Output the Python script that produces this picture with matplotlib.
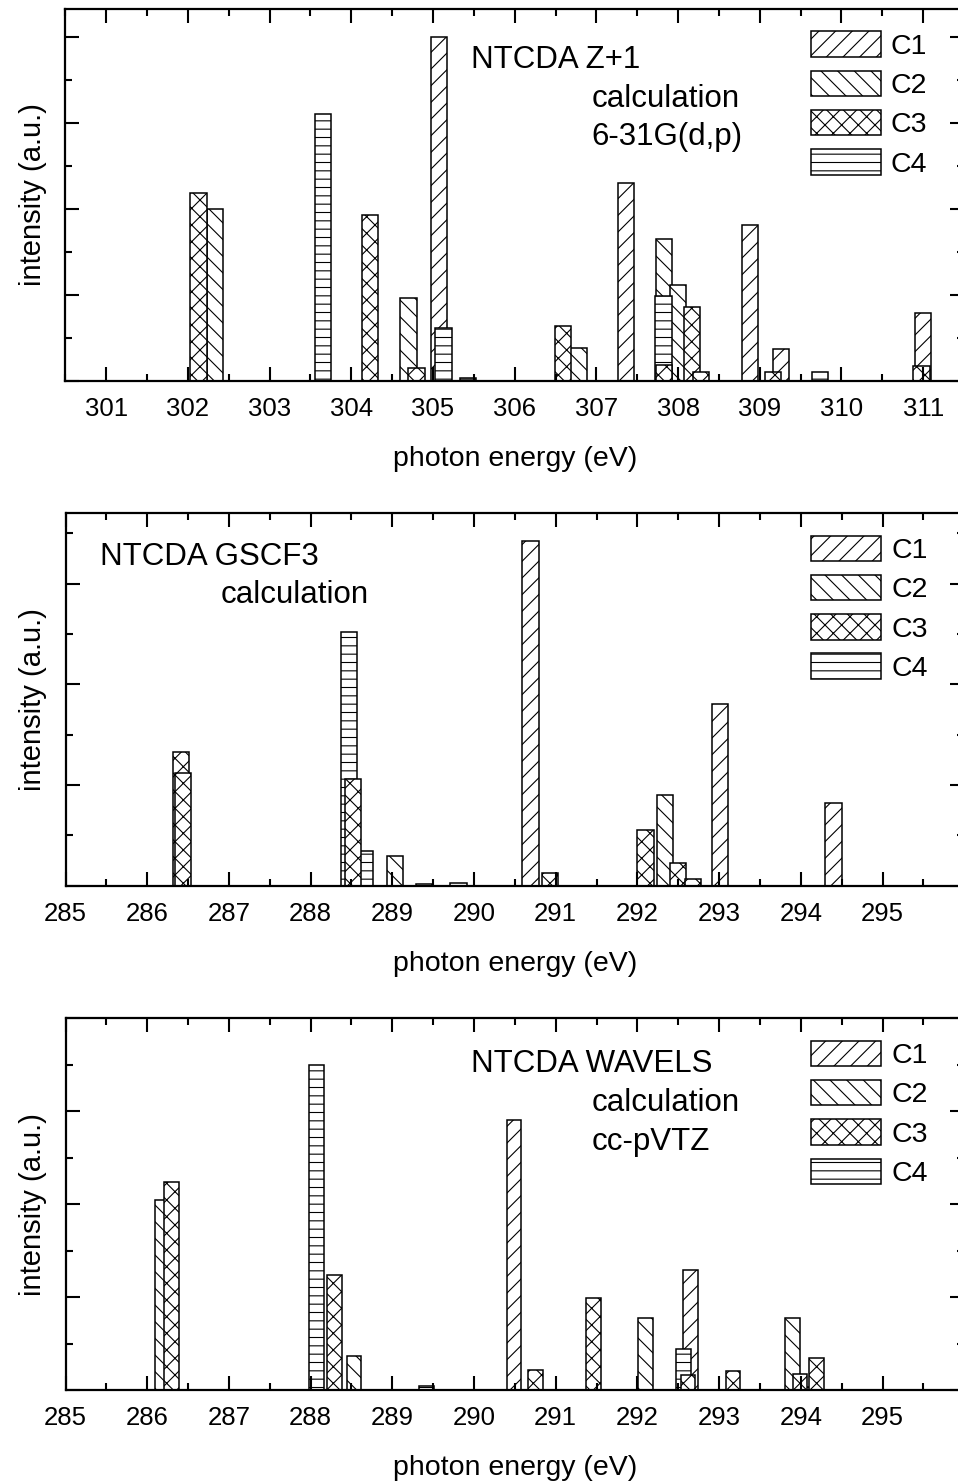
import matplotlib
matplotlib.use('Agg')
import matplotlib.pyplot as plt
from matplotlib.patches import Patch
from matplotlib.ticker import MultipleLocator

plt.rcParams['font.family'] = ['Liberation Sans', 'DejaVu Sans']
plt.rcParams['hatch.linewidth'] = 0.8

# Panel 1: NTCDA Z+1, 6-31G(d,p)
z_c1_x = [305.07, 307.36, 308.88, 309.26, 311.0]
z_c1_y = [4.0, 2.30, 1.81, 0.37, 0.79]
z_c2_x = [302.33, 304.70, 306.78, 307.83, 308.00]
z_c2_y = [2.00, 0.965, 0.39, 1.65, 1.12]
z_c3_x = [302.13, 304.23, 304.80, 306.59, 307.83, 308.17, 308.28, 309.16, 310.98]
z_c3_y = [2.19, 1.93, 0.15, 0.64, 0.19, 0.86, 0.10, 0.10, 0.17]
z_c4_x = [303.65, 305.13, 305.43, 307.82, 309.74]
z_c4_y = [3.11, 0.62, 0.03, 0.99, 0.11]

# Panel 2: NTCDA GSCF3
g_c1_x = [290.69, 293.01, 294.40]
g_c1_y = [3.42, 1.80, 0.82]
g_c2_x = [289.03, 292.34]
g_c2_y = [0.295, 0.905]
g_c3_x = [286.41, 286.44, 288.52, 290.93, 292.10, 292.50, 292.68]
g_c3_y = [1.33, 1.12, 1.06, 0.13, 0.55, 0.225, 0.066]
g_c4_x = [288.47, 288.66, 289.39, 289.81]
g_c4_y = [2.52, 0.34, 0.017, 0.023]

# Panel 3: NTCDA WAVELS, cc-pVTZ
w_c1_x = [290.49, 292.65]
w_c1_y = [2.91, 1.29]
w_c2_x = [286.18, 288.53, 292.10, 293.90]
w_c2_y = [2.04, 0.37, 0.78, 0.78]
w_c3_x = [286.30, 288.29, 290.75, 291.46, 292.62, 293.17, 293.99, 294.19]
w_c3_y = [2.24, 1.24, 0.22, 0.99, 0.16, 0.20, 0.175, 0.34]
w_c4_x = [288.07, 289.42, 292.56, 294.07]
w_c4_y = [3.50, 0.047, 0.44, 0.036]

labels = ['C1', 'C2', 'C3', 'C4']
hatches = ['//', '\\\\', 'xx', '--']

fig = plt.figure(figsize=(9.58, 14.81), dpi=100)

panels = [
    dict(rect=[0.0682, 0.7427, 0.9381, 0.2512], xlim=(300.5, 311.5), ylim=(0, 4.326),
         xticks=range(301, 312), width=0.2,
         data=[(z_c1_x, z_c1_y), (z_c2_x, z_c2_y), (z_c4_x, z_c4_y), (z_c3_x, z_c3_y)],
         texts=[(305.46, 3.64, 'NTCDA Z+1'), (306.94, 3.19, 'calculation'),
                (306.94, 2.74, '6-31G(d,p)')]),
    dict(rect=[0.0684, 0.4020, 0.9381, 0.2515], xlim=(285, 296), ylim=(0, 3.70),
         xticks=range(285, 296), width=0.2,
         data=[(g_c1_x, g_c1_y), (g_c2_x, g_c2_y), (g_c4_x, g_c4_y), (g_c3_x, g_c3_y)],
         texts=[(285.42, 3.19, 'NTCDA GSCF3'), (286.90, 2.81, 'calculation')]),
    dict(rect=[0.0684, 0.0614, 0.9381, 0.2510], xlim=(285, 296), ylim=(0, 4.0),
         xticks=range(285, 296), width=0.18,
         data=[(w_c1_x, w_c1_y), (w_c2_x, w_c2_y), (w_c4_x, w_c4_y), (w_c3_x, w_c3_y)],
         texts=[(289.96, 3.42, 'NTCDA WAVELS'), (291.44, 3.00, 'calculation'),
                (291.44, 2.58, 'cc-pVTZ')]),
]
# drawing order C1, C2, C4, C3 so the later ones sit in front
order_hatch = [hatches[0], hatches[1], hatches[3], hatches[2]]

for p in panels:
    ax = fig.add_axes(p['rect'])
    for (xs, ys), h in zip(p['data'], order_hatch):
        ax.bar(xs, ys, width=p['width'], facecolor='white', edgecolor='black',
               linewidth=1.1, hatch=h)
    ax.set_xlim(*p['xlim'])
    ax.set_ylim(*p['ylim'])
    ax.set_xticks(list(p['xticks']))
    ax.xaxis.set_minor_locator(MultipleLocator(0.5))
    ax.yaxis.set_major_locator(MultipleLocator(1))
    ax.yaxis.set_minor_locator(MultipleLocator(0.5))
    ax.tick_params(which='both', direction='in', top=True, right=True,
                   labelleft=False, width=1.5, labelsize=18.5, pad=11.5)
    ax.tick_params(which='major', length=10)
    ax.tick_params(which='minor', length=5)
    for s in ax.spines.values():
        s.set_linewidth(1.6)
    ax.set_xlabel('photon energy (eV)', fontsize=20.5, labelpad=18)
    ax.set_ylabel('intensity (a.u.)', fontsize=21, labelpad=13)
    for tx, ty, t in p['texts']:
        ax.text(tx, ty, t, fontsize=22.5, va='baseline')
    handles = [Patch(facecolor='white', edgecolor='black', linewidth=1.1, hatch=h)
               for h in hatches]
    ax.legend(handles, labels, loc='upper left', bbox_to_anchor=(0.830, 0.94),
              frameon=False, fontsize=20.5, handlelength=2.45, handleheight=1.0,
              labelspacing=0.38, handletextpad=0.35, borderpad=0, borderaxespad=0)

fig.savefig('out.png', dpi=100)
